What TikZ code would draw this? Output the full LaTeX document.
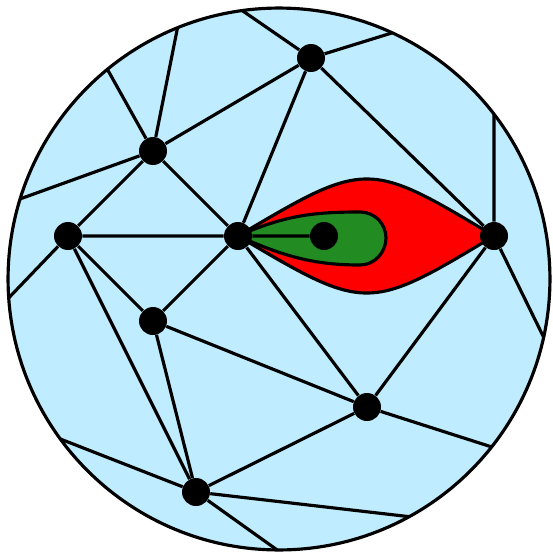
\documentclass[tikz,border=0pt]{standalone}
\usetikzlibrary{calc,backgrounds}
\definecolor{discblue}{RGB}{191,236,254}
\definecolor{leafred}{RGB}{255,0,0}
\definecolor{leafgreen}{RGB}{34,139,34}

\begin{document}
\begin{tikzpicture}[x=0.02cm,y=-0.02cm,
  vtx/.style={circle,fill=black,inner sep=0pt,minimum size=0.56cm},
  link/.style={line width=1.8pt},
  petal/.style={draw=black,line width=1.8pt,line join=round}
]
  \useasboundingbox (0,0) rectangle (553,558);
  \coordinate (o) at (279,279);
  % Vertices
  \node[vtx] (vA) at (311,58) {};
  \node[vtx] (vB) at (153,151) {};
  \node[vtx] (vC) at (68,236) {};
  \node[vtx] (vD) at (238,236) {};
  \node[vtx] (vE) at (324,236) {};
  \node[vtx] (vF) at (494,236) {};
  \node[vtx] (vG) at (153,321) {};
  \node[vtx] (vH) at (367,407) {};
  \node[vtx] (vI) at (196,492) {};
  % Points on the rim
  \foreach \n/\a in {1/97.8,2/65.3,3/37.5,4/-12.4,5/-38.3,6/-61.3,
                     7/-90.4,8/216.2,9/184,10/162.8,11/129.3,12/112}
    \coordinate (b\n) at ($(o)+(\a:5.42cm)$);
  % Disc and petals
  \begin{scope}[on background layer]
    \filldraw[fill=discblue,line width=1.8pt] (o) circle[radius=5.42cm];
    \filldraw[petal,fill=leafred] (vD.center) .. controls (366,160) and (368,160) .. (vF.center)
      .. controls (368,312) and (366,312) .. (vD.center) -- cycle;
    \filldraw[petal,fill=leafgreen] (vD.center) .. controls (285,215) and (315,212) .. (360,212)
      .. controls (375,212) and (386,224) .. (386,238)
      .. controls (386,252) and (375,265) .. (360,265)
      .. controls (315,265) and (285,257) .. (vD.center) -- cycle;
  \end{scope}
  % Edges
  \draw[link] (vA) -- (b1) (vA) -- (b2) (vA) -- (vB) (vA) -- (vD) (vA) -- (vF);
  \draw[link] (vB) -- (b12) (vB) -- (b11) (vB) -- (b10) (vB) -- (vC) (vB) -- (vD);
  \draw[link] (vC) -- (b9) (vC) -- (vD) (vC) -- (vG) (vC) -- (vI);
  \draw[link] (vD) -- (vE) (vD) -- (vG) (vD) -- (vH);
  \draw[link] (vF) -- (b3) (vF) -- (b4) (vF) -- (vH);
  \draw[link] (vG) -- (vH) (vG) -- (vI);
  \draw[link] (vH) -- (b5) (vH) -- (vI);
  \draw[link] (vI) -- (b8) (vI) -- (b6) (vI) -- (b7);
\end{tikzpicture}
\end{document}
